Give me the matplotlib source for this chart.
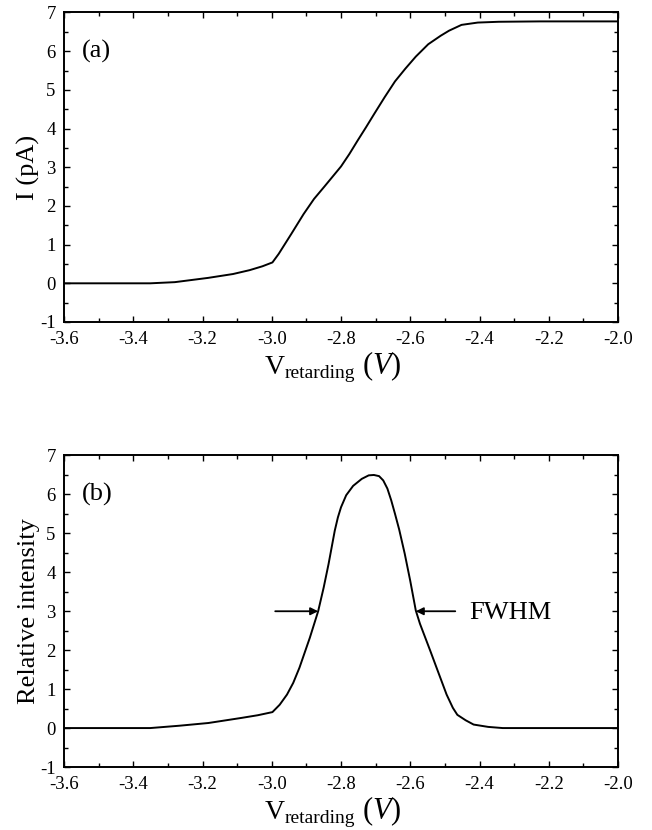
import matplotlib
matplotlib.use("Agg")
import matplotlib.pyplot as plt
import matplotlib.transforms as mtransforms
from matplotlib.ticker import MultipleLocator, FormatStrFormatter

# ---- data ----
v_a = [-3.6, -3.351, -3.28, -3.184, -3.112, -3.064, -3.027, -2.998, -2.98, -2.944,
       -2.908, -2.878, -2.848, -2.824, -2.80, -2.776, -2.752, -2.728, -2.704, -2.674,
       -2.644, -2.614, -2.584, -2.548, -2.512, -2.488, -2.452, -2.405, -2.345, -2.225, -2.0]
i_a = [0.0, 0.0, 0.03, 0.14, 0.24, 0.34, 0.44, 0.54, 0.76, 1.27,
       1.79, 2.18, 2.50, 2.76, 3.02, 3.34, 3.69, 4.03, 4.38, 4.81,
       5.22, 5.55, 5.86, 6.18, 6.40, 6.53, 6.68, 6.74, 6.76, 6.77, 6.77]

v_b = [-3.6, -3.351, -3.267, -3.183, -3.088, -3.04, -2.998, -2.977, -2.956, -2.938,
       -2.92, -2.89, -2.866, -2.85, -2.836, -2.818, -2.809, -2.80, -2.785, -2.765, -2.74,
       -2.72, -2.705, -2.69, -2.678, -2.666, -2.655, -2.644, -2.632, -2.616, -2.60, -2.584,
       -2.572, -2.56, -2.542, -2.524, -2.495, -2.477, -2.464, -2.44, -2.417, -2.375, -2.333, -2.0]
r_b = [0.0, 0.0, 0.06, 0.13, 0.26, 0.33, 0.41, 0.60, 0.86, 1.16,
       1.55, 2.32, 3.0, 3.61, 4.21, 5.07, 5.41, 5.67, 5.98, 6.22, 6.40,
       6.49, 6.50, 6.47, 6.36, 6.15, 5.85, 5.50, 5.10, 4.48, 3.78, 3.02,
       2.68, 2.40, 1.98, 1.55, 0.86, 0.52, 0.34, 0.20, 0.09, 0.03, 0.0, 0.0]

xticks = [-3.6, -3.4, -3.2, -3.0, -2.8, -2.6, -2.4, -2.2, -2.0]
yticks = [-1, 0, 1, 2, 3, 4, 5, 6, 7]
panel_labels = ["(a)", "(b)"]
ylabels = ["I (pA)", "Relative intensity"]
fwhm_left = (-2.99, -2.866)
fwhm_right = (-2.47, -2.584)
fwhm_y = 3.0

plt.rcParams['font.family'] = ['Liberation Serif', 'DejaVu Serif']
plt.rcParams['mathtext.fontset'] = 'custom'
plt.rcParams['mathtext.rm'] = 'Liberation Serif'
plt.rcParams['mathtext.it'] = 'Liberation Serif:italic'
plt.rcParams['axes.unicode_minus'] = False

W, H = 652, 830
fig = plt.figure(figsize=(W / 100, H / 100), dpi=100)

def px_axes(left, top, right, bottom):
    return fig.add_axes([left / W, 1 - bottom / H, (right - left) / W, (bottom - top) / H])

ax1 = px_axes(64, 12.5, 618, 322)
ax2 = px_axes(64, 455.5, 618, 767)

for k, (ax, xs, ys) in enumerate([(ax1, v_a, i_a), (ax2, v_b, r_b)]):
    ax.plot(xs, ys, color='black', lw=1.4, solid_joinstyle='round')
    ax.set_xlim(-3.6, -2.0)
    ax.set_ylim(-1, 7)
    ax.set_xticks(xticks)
    ax.set_yticks(yticks)
    ax.xaxis.set_minor_locator(MultipleLocator(0.1))
    ax.yaxis.set_minor_locator(MultipleLocator(0.5))
    ax.xaxis.set_major_formatter(FormatStrFormatter('%.1f'))
    ax.tick_params(which='both', direction='in', top=True, right=True,
                   width=1.0, labelsize=13.5)
    ax.tick_params(axis='x', which='major', pad=6.5)
    ax.tick_params(axis='y', which='major', pad=6)
    ax.tick_params(which='major', length=4)
    ax.tick_params(which='minor', length=3)
    for s in ax.spines.values():
        s.set_linewidth(1.4)
    ax.set_ylabel(ylabels[k], fontsize=19)
    ax.yaxis.set_label_coords(-0.043, 0.5)
    ax.text(-3.549, 6.0, panel_labels[k], fontsize=19, ha='left', va='center')

    # x label pieces
    base = mtransforms.blended_transform_factory(ax.transData, ax.transAxes)
    off = mtransforms.ScaledTranslation(0, -0.52, fig.dpi_scale_trans)
    offs = mtransforms.ScaledTranslation(0, -0.555, fig.dpi_scale_trans)
    ax.text(-3.02, 0, "V", transform=base + off, fontsize=20, ha='left', va='baseline')
    ax.text(-2.962, 0, "retarding", transform=base + offs, fontsize=14, ha='left', va='baseline')
    ax.text(-2.74, 0, r"$(\mathit{V})$", transform=base + off, fontsize=22, ha='left', va='baseline')

# FWHM annotation
ap = dict(arrowstyle='-|>', color='black', lw=1.3, mutation_scale=11, shrinkA=0, shrinkB=0)
ax2.annotate("", xy=(fwhm_left[1], fwhm_y), xytext=(fwhm_left[0], fwhm_y), arrowprops=ap)
ax2.annotate("", xy=(fwhm_right[1], fwhm_y), xytext=(fwhm_right[0], fwhm_y), arrowprops=ap)
ax2.text(-2.431, 2.95, "FWHM", fontsize=19, ha='left', va='center')

fig.savefig("out.png", dpi=100)
